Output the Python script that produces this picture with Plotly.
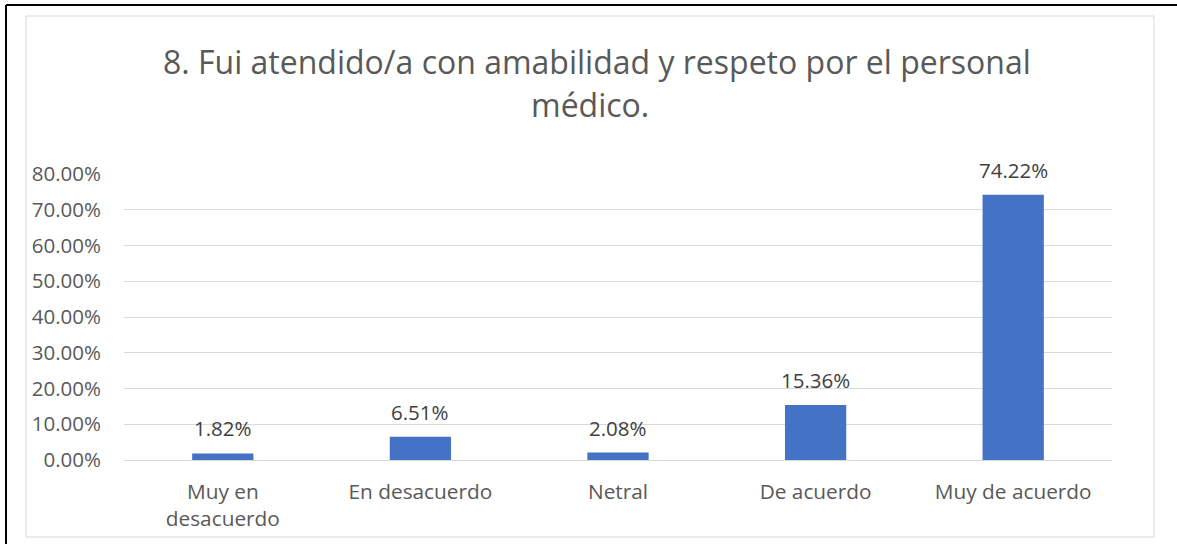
import plotly.graph_objects as go

categories = ["Muy en<br>desacuerdo", "En desacuerdo", "Netral", "De acuerdo", "Muy de acuerdo"]
values = [0.0182, 0.0651, 0.0208, 0.1536, 0.7422]
tick_values = [0, 0.1, 0.2, 0.3, 0.4, 0.5, 0.6, 0.7, 0.8]
title_lines = ["8. Fui atendido/a con amabilidad y respeto por el personal", "médico."]

W, H = 1177, 544
FONT = "Open Sans"
GRAY = "#595959"
LABEL = "#404040"

def px(x):
    return x / W

def py(y):
    return 1 - y / H

fig = go.Figure(go.Bar(
    x=categories, y=values,
    marker=dict(color="#4472C4", line=dict(width=0)),
    width=0.31,
    hoverinfo="x+y",
))

# data labels above bars
annotations = [
    dict(x=c, y=v, xref="x", yref="y", text=f"{v:.2%}", showarrow=False,
         xanchor="center", yanchor="middle", yshift=25,
         font=dict(family=FONT, size=20.5, color=LABEL))
    for c, v in zip(categories, values)
]
annotations += [
    dict(text=title_lines[0], x=px(597), y=py(61), xref="paper", yref="paper",
         xanchor="center", yanchor="middle", showarrow=False,
         font=dict(family=FONT, size=32, color=GRAY)),
    dict(text=title_lines[1], x=px(590), y=py(105), xref="paper", yref="paper",
         xanchor="center", yanchor="middle", showarrow=False,
         font=dict(family=FONT, size=32, color=GRAY)),
]

fig.update_layout(
    width=W, height=H,
    margin=dict(l=0, r=0, t=0, b=0, autoexpand=False),
    paper_bgcolor="white", plot_bgcolor="white",
    showlegend=False,
    font=dict(family=FONT, color=GRAY),
    xaxis=dict(domain=[px(124), px(1112)], showgrid=False, showline=False, automargin=False,
               ticks="", ticklabelstandoff=17,
               tickfont=dict(family=FONT, size=20.8, color=GRAY)),
    yaxis=dict(domain=[py(460), py(174)], range=[0, 0.8], tickvals=tick_values, automargin=False,
               tickformat=".2%", showgrid=True, gridcolor="#d9d9d9", gridwidth=1,
               zeroline=True, zerolinecolor="#d9d9d9", zerolinewidth=1,
               showline=False, ticks="", ticklabelstandoff=22,
               tickfont=dict(family=FONT, size=20.5, color=GRAY)),
    annotations=annotations,
    shapes=[
        dict(type="line", xref="paper", yref="paper", x0=px(6), x1=1, y0=py(5), y1=py(5),
             line=dict(color="black", width=2)),
        dict(type="line", xref="paper", yref="paper", x0=px(6), x1=px(6), y0=py(5), y1=0,
             line=dict(color="black", width=2)),
        dict(type="rect", xref="paper", yref="paper", x0=px(26), x1=px(1154), y0=py(16), y1=py(537),
             line=dict(color="#d9d9d9", width=1)),
    ],
)

fig.write_html("out.html", config={"displayModeBar": False},
               post_script="document.body.style.margin='0';document.body.style.overflow='hidden';")
